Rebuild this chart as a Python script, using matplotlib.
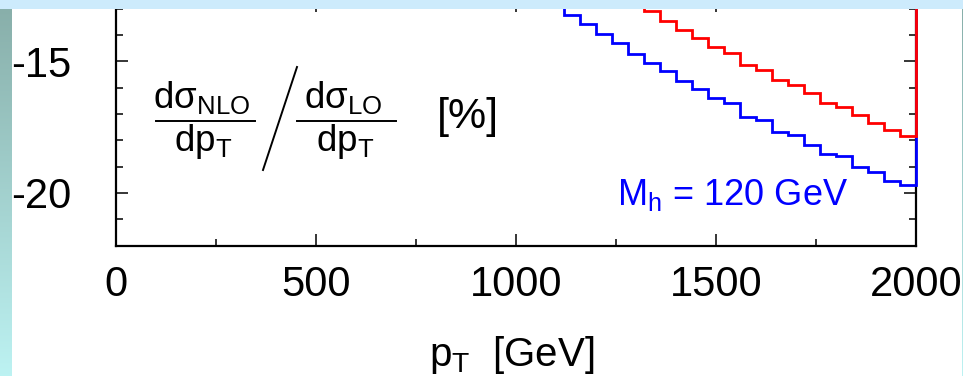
import numpy as np
import matplotlib
matplotlib.use("Agg")
import matplotlib.pyplot as plt
from matplotlib.patches import Rectangle
from matplotlib.lines import Line2D
from matplotlib.ticker import MultipleLocator

plt.rcParams['font.family'] = ['Liberation Sans', 'DejaVu Sans']
plt.rcParams['mathtext.fontset'] = 'custom'
plt.rcParams['mathtext.rm'] = 'Liberation Sans'
plt.rcParams['mathtext.it'] = 'Liberation Sans:italic'
plt.rcParams['mathtext.bf'] = 'Liberation Sans:bold'

# NLO/LO correction in percent, 40 GeV bins in p_T
bin_width = 40
blue_start = 1120
blue_values = [-13.24, -13.60, -13.96, -14.31, -14.71, -15.06, -15.37, -15.74,
               -16.04, -16.39, -16.58, -17.10, -17.23, -17.70, -17.81, -18.18,
               -18.52, -18.60, -19.01, -19.22, -19.54, -19.69]
red_start = 1320
red_values = [-13.09, -13.47, -13.82, -14.11, -14.47, -14.67, -15.13, -15.32,
              -15.73, -15.92, -16.19, -16.58, -16.72, -17.05, -17.34, -17.61,
              -17.85]
x_ticks = [0, 500, 1000, 1500, 2000]
y_ticks = [-15, -20]

W, H = 963, 376
fig = plt.figure(figsize=(W / 100, H / 100), dpi=100, facecolor='white')


def fx(px):
    return px / W


def fy(py):
    return 1 - py / H


ax_left, ax_right, ax_bottom, ax_top = 116, 915.7, 245.5, 0
ax = fig.add_axes([fx(ax_left), fy(ax_bottom), fx(ax_right) - fx(ax_left),
                   fy(ax_top) - fy(ax_bottom)])
ax.set_facecolor('white')
ax.set_xlim(0, 2000)
ax.set_ylim(-22, -15 + 61 / 26.2)

blue_edges = blue_start + bin_width * np.arange(len(blue_values) + 1)
red_edges = red_start + bin_width * np.arange(len(red_values) + 1)
ax.stairs(blue_values, blue_edges, baseline=0, color='#0000ff', lw=2.0,
          zorder=3, clip_on=False)
ax.stairs(red_values, red_edges, baseline=0, color='#ff0000', lw=2.0,
          zorder=4, clip_on=False)

ax.set_xticks(x_ticks)
ax.set_xticklabels([str(v) for v in x_ticks])
ax.set_yticks(y_ticks)
ax.set_yticklabels([str(v) for v in y_ticks])
ax.xaxis.set_minor_locator(MultipleLocator(250))
ax.yaxis.set_minor_locator(MultipleLocator(1))
ax.tick_params(which='both', direction='in', top=True, right=True,
               width=1.1, colors='black', labelsize=30)
ax.tick_params(which='major', length=8.6)
ax.tick_params(which='minor', length=5)
ax.tick_params(axis='x', pad=14)
ax.tick_params(axis='y', pad=32)
for s in ax.spines.values():
    s.set_linewidth(1.6)

# axis title
fig.text(fx(512), fy(366), r'p$_{\mathregular{T}}$  [GeV]', ha='center',
         va='baseline', fontsize=29)

# ratio label
fs = 26.5
fig.text(fx(202), fy(108), r'd$\mathregular{\sigma}_{\mathregular{NLO}}$',
         ha='center', va='baseline', fontsize=fs)
fig.text(fx(203), fy(151), r'dp$_{\mathregular{T}}$', ha='center',
         va='baseline', fontsize=fs)
fig.text(fx(343), fy(108), r'd$\mathregular{\sigma}_{\mathregular{LO}}$',
         ha='center', va='baseline', fontsize=fs)
fig.text(fx(345), fy(151), r'dp$_{\mathregular{T}}$', ha='center',
         va='baseline', fontsize=fs)
fig.text(fx(468), fy(128), '[%]', ha='center', va='baseline', fontsize=31)
for x0, x1, y0, y1 in [(156, 255, 121, 121), (297, 396, 121, 121),
                       (297, 263, 67, 170)]:
    fig.add_artist(Line2D([fx(x0), fx(x1)], [fy(y0), fy(y1)],
                          transform=fig.transFigure, color='black', lw=1.4))

fig.text(fx(617), fy(205), r'M$_{\mathregular{h}}$ = 120 GeV', ha='left',
         va='baseline', fontsize=26, color='#0000ff')

# slide frame: left gradient strip, thin right line, header band
grad = np.linspace(0, 1, 256)[:, None]
c_top = np.array([0.53, 0.68, 0.66])
c_bot = np.array([0.74, 0.95, 0.95])
img = c_top[None, None, :] * (1 - grad[:, :, None]) + c_bot[None, None, :] * grad[:, :, None]
for x0, wpx in [(0, 11), (961.5, 1.5)]:
    sax = fig.add_axes([fx(x0), 0, wpx / W, 1], zorder=5)
    sax.imshow(img, aspect='auto', extent=[0, 1, 0, 1], interpolation='bilinear')
    sax.set_axis_off()
fig.add_artist(Rectangle((0, fy(9)), 1, 9 / H, transform=fig.transFigure,
                         facecolor='#cdebfc', edgecolor='none', zorder=10))

fig.savefig('out.png', dpi=100, facecolor='white')
